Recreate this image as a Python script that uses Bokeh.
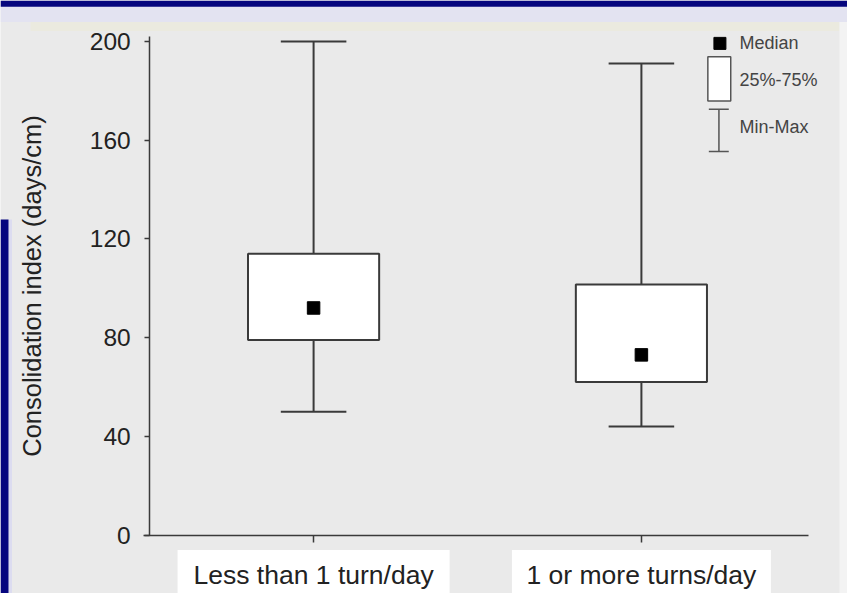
from bokeh.plotting import figure
from bokeh.models import Range1d, FixedTicker, ColumnDataSource
from bokeh.transform import dodge
from bokeh.core.properties import value
from bokeh.embed import file_html
from bokeh.resources import INLINE

# ---- data ----
categories = ["Less than 1 turn/day", "1 or more turns/day"]
q1_values = [79, 62]
q3_values = [114, 101.5]
median_values = [92, 73]
min_values = [50, 44]
max_values = [200, 191]
y_ticks = [0, 40, 80, 120, 160, 200]
y_label = "Consolidation index (days/cm)"
legend_texts = ["Median", "25%-75%", "Min-Max"]

# ---- style / layout ----
W, H = 847, 593
BG = "#eaeaea"
INK = "#3a3a3a"
NAVY = "#06067e"
FONT = value("Liberation Sans")
X0, X1 = -0.4551, 2.1287
Y0, Y1 = -23.67, 216.57


def dx(fx):
    return X0 + fx / W * (X1 - X0)


def dy(fy):
    return Y1 - fy / H * (Y1 - Y0)


cat_pos = [i + 0.5 for i in range(len(categories))]
src = ColumnDataSource(dict(x=cat_pos, q1=q1_values, q3=q3_values,
                            med=median_values, lo=min_values, hi=max_values))

p = figure(x_range=Range1d(X0, X1), y_range=Range1d(Y0, Y1),
           width=W, height=H, output_backend="svg", toolbar_location=None,
           min_border_left=0, min_border_right=0, min_border_top=0, min_border_bottom=0)
p.background_fill_color = BG
p.border_fill_color = BG
p.outline_line_color = None
p.grid.visible = False

# ---- page decorations ----
p.quad(left=[dx(0)], right=[dx(W)], top=[dy(5.8)], bottom=[dy(21.4)],
       fill_color="#e3e3f1", line_color=None)
p.quad(left=[dx(30)], right=[dx(839)], top=[dy(21.4)], bottom=[dy(30.5)],
       fill_color="#ebeadf", line_color=None)
p.quad(left=[dx(839)], right=[dx(W)], top=[dy(21.4)], bottom=[dy(H)],
       fill_color="#f3f3f3", line_color=None)
p.quad(left=[dx(0)], right=[dx(W)], top=[dy(0)], bottom=[dy(6.2)],
       fill_color=NAVY, line_color=None)
p.quad(left=[dx(7.8)], right=[dx(11.5)], top=[dy(219)], bottom=[dy(H)],
       fill_color="#dcdcf0", line_color=None)
p.quad(left=[dx(0)], right=[dx(8)], top=[dy(219)], bottom=[dy(H)],
       fill_color=NAVY, line_color=None)

# white backgrounds behind the category labels
p.rect(x=cat_pos, y=-16, width=[0.83, 0.79], height=20, fill_color="white", line_color=None)

# whiskers
p.segment(x0="x", y0="q3", x1="x", y1="hi", source=src, line_color=INK, line_width=2)
p.segment(x0="x", y0="q1", x1="x", y1="lo", source=src, line_color=INK, line_width=2)
for col in ("hi", "lo"):
    p.segment(x0=dodge("x", -0.1), y0=col, x1=dodge("x", 0.1), y1=col,
              source=src, line_color=INK, line_width=2)
# boxes
p.vbar(x="x", top="q3", bottom="q1", width=0.4, source=src,
       fill_color="white", line_color=INK, line_width=2)
# medians
p.scatter(x="x", y="med", source=src, marker="square", size=12.5,
          fill_color="black", line_color="black")

# ---- legend (drawn) ----
p.scatter(x=[1.7395], y=[199.2], marker="square", size=12, fill_color="black", line_color="black")
p.quad(left=[1.7027], right=[1.7725], top=[193.8], bottom=[175.9],
       fill_color="white", line_color="#555555", line_width=1.5)
p.segment(x0=[1.7365], y0=[155.4], x1=[1.7365], y1=[172.5], line_color="#555555", line_width=1.5)
p.segment(x0=[1.7057, 1.7057], y0=[155.4, 172.5], x1=[1.7665, 1.7665], y1=[155.4, 172.5],
          line_color="#555555", line_width=1.5)
p.text(x=[1.7994] * 3, y=[199.2, 184.2, 165.3], text=legend_texts,
       text_font=FONT, text_font_size="18px", text_color="#444444",
       text_baseline="middle", text_align="left")

# ---- axes ----
ya = p.yaxis[0]
ya.fixed_location = 0
ya.ticker = FixedTicker(ticks=y_ticks)
ya.bounds = (0, 202)
ya.axis_label = y_label
ya.axis_label_text_font = "Liberation Sans"
ya.axis_label_text_font_size = "25.5px"
ya.axis_label_text_font_style = "normal"
ya.axis_label_text_color = "#222222"
ya.axis_label_standoff = 41
ya.major_label_text_font = "Liberation Sans"
ya.major_label_text_font_size = "24.5px"
ya.major_label_text_color = "#222222"
ya.major_label_standoff = 14
ya.major_tick_out = 5
ya.major_tick_in = 0
ya.minor_tick_out = 0
ya.minor_tick_in = 0
ya.axis_line_color = INK
ya.axis_line_width = 1.5
ya.major_tick_line_color = INK
ya.major_tick_line_width = 1.5

xa = p.xaxis[0]
xa.fixed_location = 0
xa.ticker = FixedTicker(ticks=cat_pos, minor_ticks=[])
xa.major_label_overrides = {pos: name for pos, name in zip(cat_pos, categories)}
xa.bounds = (-0.02, 2.01)
xa.major_label_text_font = "Liberation Sans"
xa.major_label_text_font_size = "26.5px"
xa.major_label_text_color = "#222222"
xa.major_label_standoff = 18
xa.major_tick_out = 7
xa.major_tick_in = 0
xa.minor_tick_out = 0
xa.minor_tick_in = 0
xa.axis_line_color = INK
xa.axis_line_width = 1.5
xa.major_tick_line_color = INK
xa.major_tick_line_width = 1.5

open("out.html", "w").write(file_html(p, INLINE))
